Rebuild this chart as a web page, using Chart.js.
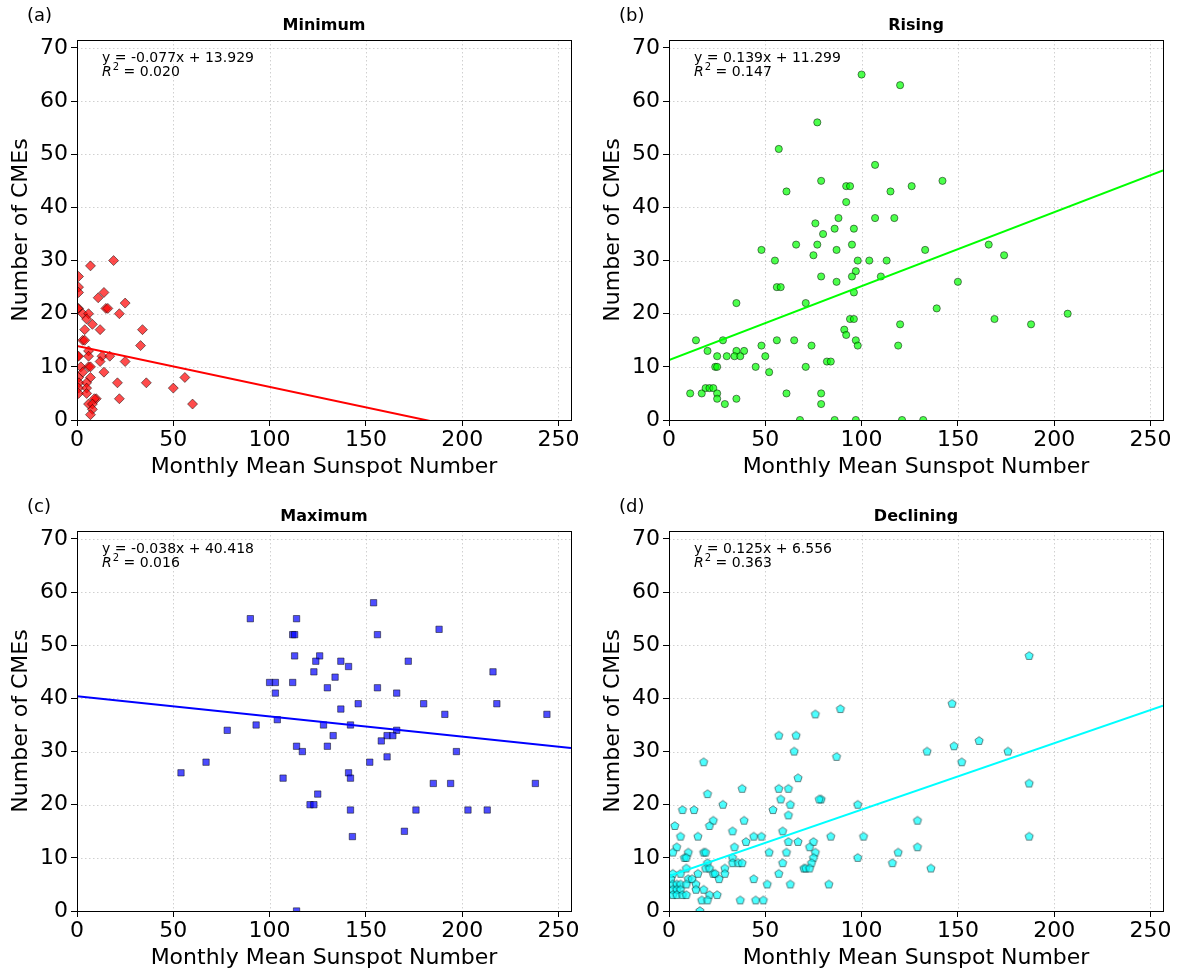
<!DOCTYPE html>
<html>
<head>
<meta charset="utf-8">
<script src="https://cdn.jsdelivr.net/npm/chart.js@4.4.0/dist/chart.umd.min.js"></script>
<style>
  body { margin: 0; background: #fff; }
  #wrap { position: relative; width: 1181px; height: 973px; }
  canvas { position: absolute; }
</style>
</head>
<body>
<div id="wrap">
  <canvas id="chartA" width="590" height="480" style="left:0;top:0"></canvas>
  <canvas id="chartB" width="590" height="480" style="left:592px;top:0"></canvas>
  <canvas id="chartC" width="590" height="480" style="left:0;top:491px"></canvas>
  <canvas id="chartD" width="590" height="480" style="left:592px;top:491px"></canvas>
</div>
<script>
// axis ticks
const xTicks = [0, 50, 100, 150, 200, 250];
const yTicks = [0, 10, 20, 30, 40, 50, 60, 70];
const xMax = 256.5;
const yMax = 71.5;

// Minimum phase
const minX = [7, 19, 0.8, 0.8, 0.8, 14, 11, 25, 15, 16, 0.8, 0.3, 3, 6, 22, 5, 8, 4, 12, 34, 3, 4, 33, 0.3, 0.8, 6, 6, 13, 17, 12, 25, 2, 6, 7, 3, 14, 0.8, 7, 56, 1, 5, 21, 36, 0.8, 5, 50, 0.8, 5, 10, 22, 9, 6, 8, 60, 8, 7];
const minY = [29, 30, 27, 25, 24, 24, 23, 22, 21, 21, 21, 21, 20, 20, 20, 19, 18, 17, 17, 17, 15, 15, 14, 12, 12, 13, 12, 12, 12, 11, 11, 10, 10, 10, 9, 9, 8, 8, 8, 7, 7, 7, 7, 6, 6, 6, 5, 5, 4, 4, 4, 3, 3, 3, 2, 1];

// Rising phase
const risX = [77, 57, 79, 61, 76, 80, 100, 120, 107, 92, 94, 115, 126, 142, 92, 88, 107, 117, 86, 96, 48, 66, 77, 75, 55, 79, 56, 58, 35, 71, 14, 28, 56, 65, 74, 48, 20, 35, 39, 25, 30, 34, 37, 50, 24, 25, 45, 71, 52, 11, 17, 19, 21, 23, 25, 25, 29, 35, 61, 79, 79, 68, 95, 87, 133, 166, 174, 98, 104, 113, 97, 95, 110, 87, 150, 96, 139, 94, 96, 169, 120, 188, 91, 92, 97, 98, 119, 82, 84, 86, 97, 121, 132, 207];
const risY = [56, 51, 45, 43, 37, 35, 65, 63, 48, 44, 44, 43, 44, 45, 41, 38, 38, 38, 36, 36, 32, 33, 33, 31, 30, 27, 25, 25, 22, 22, 15, 15, 15, 15, 14, 14, 13, 13, 13, 12, 12, 12, 12, 12, 10, 10, 10, 10, 9, 5, 5, 6, 6, 6, 5, 4, 3, 4, 5, 5, 3, 0, 33, 32, 32, 33, 31, 30, 30, 30, 28, 27, 27, 26, 26, 24, 21, 19, 19, 19, 18, 18, 17, 16, 15, 14, 14, 11, 11, 0, 0, 0, 0, 20];

// Maximum phase
const maxX = [90, 114, 112, 113, 113, 126, 124, 137, 141, 123, 134, 100, 103, 112, 130, 103, 146, 137, 104, 93, 128, 142, 78, 133, 114, 130, 117, 67, 54, 141, 142, 107, 125, 121, 123, 142, 143, 114, 154, 156, 188, 172, 156, 216, 166, 180, 218, 191, 244, 166, 161, 164, 158, 197, 161, 152, 185, 194, 238, 176, 203, 213, 170];
const maxY = [55, 55, 52, 52, 48, 48, 47, 47, 46, 45, 44, 43, 43, 43, 42, 41, 39, 38, 36, 35, 35, 35, 34, 33, 31, 31, 30, 28, 26, 26, 25, 25, 22, 20, 20, 19, 14, 0, 58, 52, 53, 47, 42, 45, 41, 39, 39, 37, 37, 34, 33, 33, 32, 30, 29, 28, 24, 24, 24, 19, 19, 19, 15];

// Declining phase
const decX = [28, 58, 63, 7, 13, 54, 62, 23, 39, 21, 3, 33, 59, 6, 15, 44, 48, 40, 62, 4, 34, 2, 10, 18, 19, 52, 61, 8, 9, 33, 20, 33, 36, 38, 59, 2, 6, 9, 19, 21, 29, 15, 23, 24, 29, 57, 1, 10, 12, 26, 44, 2, 4, 6, 9, 14, 51, 63, 2, 4, 6, 14, 18, 2, 4, 7, 9, 21, 25, 17, 20, 37, 45, 49, 16, 89, 76, 57, 66, 65, 87, 18, 67, 38, 57, 62, 20, 147, 161, 148, 134, 176, 152, 79, 78, 98, 129, 67, 75, 84, 101, 73, 76, 129, 119, 75, 98, 74, 116, 70, 71, 73, 136, 83, 187, 187, 187];
const decY = [20, 21, 20, 19, 19, 19, 18, 17, 17, 16, 16, 15, 15, 14, 14, 14, 14, 13, 13, 12, 12, 11, 11, 11, 11, 11, 11, 10, 10, 10, 9, 9, 9, 9, 9, 7, 7, 8, 8, 8, 8, 7, 7, 7, 7, 7, 6, 6, 6, 6, 6, 5, 5, 5, 5, 5, 5, 5, 4, 4, 4, 4, 4, 3, 3, 3, 3, 3, 3, 2, 2, 2, 2, 2, 0, 38, 37, 33, 33, 30, 29, 28, 25, 23, 23, 23, 22, 39, 32, 31, 30, 30, 28, 21, 21, 20, 17, 13, 13, 14, 14, 12, 11, 12, 11, 10, 10, 9, 9, 8, 8, 8, 8, 5, 48, 24, 14];

// fitted lines as printed in each panel
const fitSlope = [-0.077, 0.139, -0.038, 0.125];
const fitIntercept = [13.929, 11.299, 40.418, 6.556];
const fitR2 = ['0.020', '0.147', '0.016', '0.363'];

Chart.defaults.font.family = "'DejaVu Sans', sans-serif";
Chart.defaults.color = '#000';

function pentagonMarker(r, fill, stroke) {
    const size = Math.ceil(r * 2 + 3);
    const c = document.createElement('canvas');
    c.width = size;
    c.height = size;
    const g = c.getContext('2d');
    g.beginPath();
    for (let i = 0; i < 5; i++) {
        const a = -Math.PI / 2 + i * 2 * Math.PI / 5;
        const px = size / 2 + r * Math.cos(a);
        const py = size / 2 + r * Math.sin(a);
        if (i === 0) g.moveTo(px, py); else g.lineTo(px, py);
    }
    g.closePath();
    g.fillStyle = fill;
    g.fill();
    g.lineWidth = 0.7;
    g.strokeStyle = stroke;
    g.stroke();
    return c;
}

const panelDecor = {
    id: 'panelDecor',
    beforeDatasetsDraw(chart) {
        const {ctx, chartArea: a, scales} = chart;
        ctx.save();
        ctx.strokeStyle = 'rgba(176,176,176,0.6)';
        ctx.lineWidth = 1;
        ctx.setLineDash([1.5, 2.5]);
        xTicks.forEach(v => {
            const px = Math.round(scales.x.getPixelForValue(v)) + 0.5;
            ctx.beginPath(); ctx.moveTo(px, a.top); ctx.lineTo(px, a.bottom); ctx.stroke();
        });
        yTicks.forEach(v => {
            const py = Math.round(scales.y.getPixelForValue(v)) + 0.5;
            ctx.beginPath(); ctx.moveTo(a.left, py); ctx.lineTo(a.right, py); ctx.stroke();
        });
        ctx.restore();
    },
    afterDraw(chart, args, opts) {
        const {ctx, chartArea: a} = chart;
        const cx = (a.left + a.right) / 2;
        ctx.save();
        // frame
        ctx.strokeStyle = '#000';
        ctx.lineWidth = 1;
        ctx.strokeRect(Math.round(a.left) + 0.5, Math.round(a.top) + 0.5, Math.round(a.right - a.left), Math.round(a.bottom - a.top));
        ctx.fillStyle = '#000';
        ctx.textBaseline = 'middle';
        // panel letter
        ctx.font = "18px 'DejaVu Sans'";
        ctx.textAlign = 'left';
        ctx.fillText(opts.letter, 27, 16);
        // title
        ctx.font = "bold 16px 'DejaVu Sans'";
        ctx.textAlign = 'center';
        ctx.fillText(opts.title, cx, 26);
        // axis titles
        ctx.font = "22px 'DejaVu Sans'";
        ctx.fillText('Monthly Mean Sunspot Number', cx, 467);
        ctx.save();
        ctx.translate(21, (a.top + a.bottom) / 2);
        ctx.rotate(-Math.PI / 2);
        ctx.fillText('Number of CMEs', 0, 0);
        ctx.restore();
        // fit annotation
        const i = opts.idx;
        const m = fitSlope[i];
        const eq = 'y = ' + m.toFixed(3) + 'x + ' + fitIntercept[i].toFixed(3);
        ctx.textAlign = 'left';
        ctx.font = "14px 'DejaVu Sans'";
        const tx = a.left + 25;
        ctx.fillText(eq, tx, 58);
        ctx.font = "italic 14px 'DejaVu Sans'";
        ctx.fillText('R', tx, 72.5);
        let w = ctx.measureText('R').width;
        ctx.font = "10px 'DejaVu Sans'";
        ctx.fillText('2', tx + w + 1, 67.5);
        w += ctx.measureText('2').width + 1;
        ctx.font = "14px 'DejaVu Sans'";
        ctx.fillText(' = ' + fitR2[i], tx + w, 72.5);
        ctx.restore();
    }
};

function makePanel(id, idx, letter, title, xs, ys, marker) {
    const pts = xs.map((x, k) => ({x: x, y: ys[k]}));
    const fit = [0, xMax].map(x => ({x: x, y: fitSlope[idx] * x + fitIntercept[idx]}));
    new Chart(document.getElementById(id), {
        type: 'scatter',
        data: {
            datasets: [
                {
                    data: fit,
                    showLine: true,
                    pointRadius: 0,
                    borderColor: marker.line,
                    borderWidth: 2,
                    clip: 0,
                    order: 0
                },
                {
                    data: pts,
                    pointStyle: marker.style,
                    pointRadius: marker.radius,
                    backgroundColor: marker.fill,
                    borderColor: 'rgba(0,0,0,0.7)',
                    borderWidth: 0.7,
                    clip: 0,
                    order: 1
                }
            ]
        },
        options: {
            responsive: false,
            animation: false,
            layout: { padding: { left: 0, right: 19, top: 40, bottom: 0 } },
            plugins: {
                legend: { display: false },
                tooltip: { enabled: false },
                panelDecor: { letter: letter, title: title, idx: idx }
            },
            scales: {
                x: {
                    type: 'linear',
                    min: 0,
                    max: xMax,
                    afterBuildTicks: s => { s.ticks = xTicks.map(v => ({value: v})); },
                    afterFit: s => { s.height = 60; },
                    ticks: { font: { size: 22 }, padding: 1, maxRotation: 0, autoSkip: false },
                    grid: { drawOnChartArea: false, drawTicks: true, tickLength: 6, tickColor: '#000', color: '#000' },
                    border: { display: false }
                },
                y: {
                    type: 'linear',
                    min: 0,
                    max: yMax,
                    afterBuildTicks: s => { s.ticks = yTicks.map(v => ({value: v})); },
                    afterFit: s => { s.width = 77; },
                    ticks: { font: { size: 22 }, padding: 3, autoSkip: false },
                    grid: { drawOnChartArea: false, drawTicks: true, tickLength: 6, tickColor: '#000', color: '#000' },
                    border: { display: false }
                }
            }
        },
        plugins: [panelDecor]
    });
}

makePanel('chartA', 0, '(a)', 'Minimum', minX, minY,
    { style: 'rectRot', radius: 5, fill: 'rgba(255,0,0,0.7)', line: '#ff0000' });
makePanel('chartB', 1, '(b)', 'Rising', risX, risY,
    { style: 'circle', radius: 3.6, fill: 'rgba(0,255,0,0.7)', line: '#00ff00' });
makePanel('chartC', 2, '(c)', 'Maximum', maxX, maxY,
    { style: 'rect', radius: 4.5, fill: 'rgba(0,0,255,0.7)', line: '#0000ff' });
makePanel('chartD', 3, '(d)', 'Declining', decX, decY,
    { style: pentagonMarker(4.3, 'rgba(0,255,255,0.7)', 'rgba(0,0,0,0.7)'), radius: 4, fill: 'rgba(0,255,255,0.7)', line: '#00ffff' });
</script>
</body>
</html>
